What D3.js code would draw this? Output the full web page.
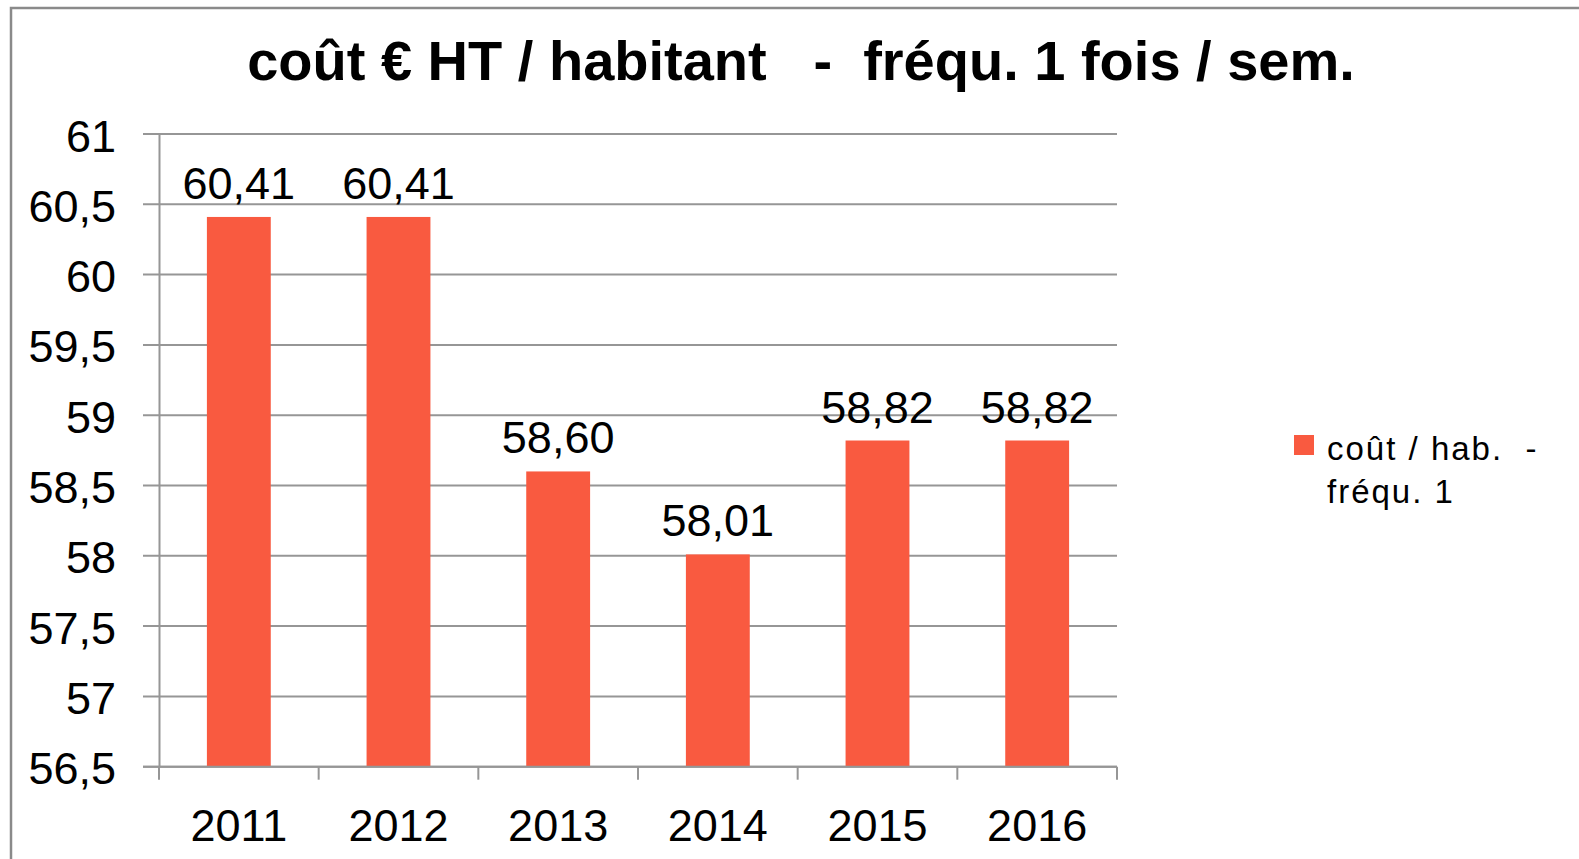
<!DOCTYPE html>
<meta charset="utf-8">
<style>
    body {
        margin: 0;
        background-color: #fff;
    }

    svg {
        display: block;
    }

    text {
        font-family: "Liberation Sans", Arial, sans-serif;
        fill: #000;
    }

    .grid line {
        stroke: #969696;
        stroke-width: 2px;
    }

    .frame {
        stroke: #8a8a8a;
        stroke-width: 2.5px;
        fill: none;
    }
</style>
<svg width="1579" height="859"></svg>
<script src="https://d3js.org/d3.v7.min.js"></script>
<script>
    var years = ["2011", "2012", "2013", "2014", "2015", "2016"];
    var values = [60.41, 60.41, 58.60, 58.01, 58.82, 58.82];
    var yTicks = [56.5, 57, 57.5, 58, 58.5, 59, 59.5, 60, 60.5, 61];
    var seriesName = ["coût / hab.  -", "fréqu. 1"];
    var title = "coût € HT / habitant   -  fréqu. 1 fois / sem.";

    var svg = d3.select("svg");
    var barColor = "#f95a40";

    var comma = function(v, digits) {
        return v.toFixed(digits).replace(".", ",");
    };

    // outer frame of the chart area (only top and left edge visible)
    svg.append("path")
        .attr("class", "frame")
        .attr("d", "M11,859 L11,8 L1579,8");

    var x = d3.scaleBand()
        .domain(years)
        .range([159, 1117])
        .paddingInner(0.6)
        .paddingOuter(0.3);

    var y = d3.scaleLinear()
        .domain([56.5, 61])
        .range([766.7, 134]);

    // horizontal gridlines, extending left of the axis as tick marks
    svg.append("g")
        .attr("class", "grid")
        .selectAll("line")
        .data(yTicks)
        .enter().append("line")
        .attr("x1", 143)
        .attr("x2", 1117)
        .attr("y1", function(d) { return y(d); })
        .attr("y2", function(d) { return y(d); });

    // y axis
    var yAxis = svg.append("g")
        .attr("transform", "translate(159,0)")
        .call(d3.axisLeft(y)
            .tickValues(yTicks)
            .tickSize(0)
            .tickPadding(42)
            .tickFormat(function(d) { return String(d).replace(".", ","); }));
    yAxis.select(".domain")
        .attr("stroke", "#969696")
        .attr("stroke-width", 2);
    yAxis.selectAll("text")
        .attr("font-size", "45px")
        .attr("font-family", "Liberation Sans, Arial, sans-serif")
        .attr("fill", "#000")
        .attr("dy", "17")
        .attr("x", -43);

    // x axis, ticks between categories
    var xEdges = years.map(function(d) { return x(d) - x.step() * x.paddingInner() / 2; })
        .concat([1117]);
    svg.append("g")
        .selectAll("line")
        .data(xEdges)
        .enter().append("line")
        .attr("x1", function(d) { return d; })
        .attr("x2", function(d) { return d; })
        .attr("y1", y(56.5))
        .attr("y2", y(56.5) + 13)
        .attr("stroke", "#969696")
        .attr("stroke-width", 2);

    svg.append("g")
        .selectAll("text")
        .data(years)
        .enter().append("text")
        .attr("x", function(d) { return x(d) + x.bandwidth() / 2; })
        .attr("y", 840.5)
        .attr("text-anchor", "middle")
        .attr("font-size", "45px")
        .text(function(d) { return d; });

    // bars
    svg.append("g")
        .selectAll("rect")
        .data(values)
        .enter().append("rect")
        .attr("x", function(d, i) { return x(years[i]); })
        .attr("y", function(d) { return y(d); })
        .attr("width", x.bandwidth())
        .attr("height", function(d) { return y(56.5) - y(d); })
        .attr("fill", barColor);

    // x axis line on top of bars
    svg.append("line")
        .attr("x1", 143)
        .attr("x2", 1117)
        .attr("y1", y(56.5))
        .attr("y2", y(56.5))
        .attr("stroke", "#969696")
        .attr("stroke-width", 2);

    // value labels
    svg.append("g")
        .selectAll("text")
        .data(values)
        .enter().append("text")
        .attr("x", function(d, i) { return x(years[i]) + x.bandwidth() / 2; })
        .attr("y", function(d) { return y(d) - 18; })
        .attr("text-anchor", "middle")
        .attr("font-size", "45px")
        .text(function(d) { return comma(d, 2); });

    // title
    svg.append("text")
        .attr("x", 801)
        .attr("y", 80)
        .attr("text-anchor", "middle")
        .attr("font-size", "56px")
        .attr("font-weight", "bold")
        .attr("xml:space", "preserve")
        .style("white-space", "pre")
        .text(title);

    // legend
    var legend = svg.append("g");
    legend.append("rect")
        .attr("x", 1294)
        .attr("y", 435)
        .attr("width", 20)
        .attr("height", 20)
        .attr("fill", barColor);
    legend.append("text")
        .attr("font-size", "33px")
        .attr("letter-spacing", "2px")
        .style("white-space", "pre")
        .selectAll("tspan")
        .data(seriesName)
        .enter().append("tspan")
        .attr("x", 1327)
        .attr("y", function(d, i) { return 460 + i * 43; })
        .text(function(d) { return d; });
</script>
